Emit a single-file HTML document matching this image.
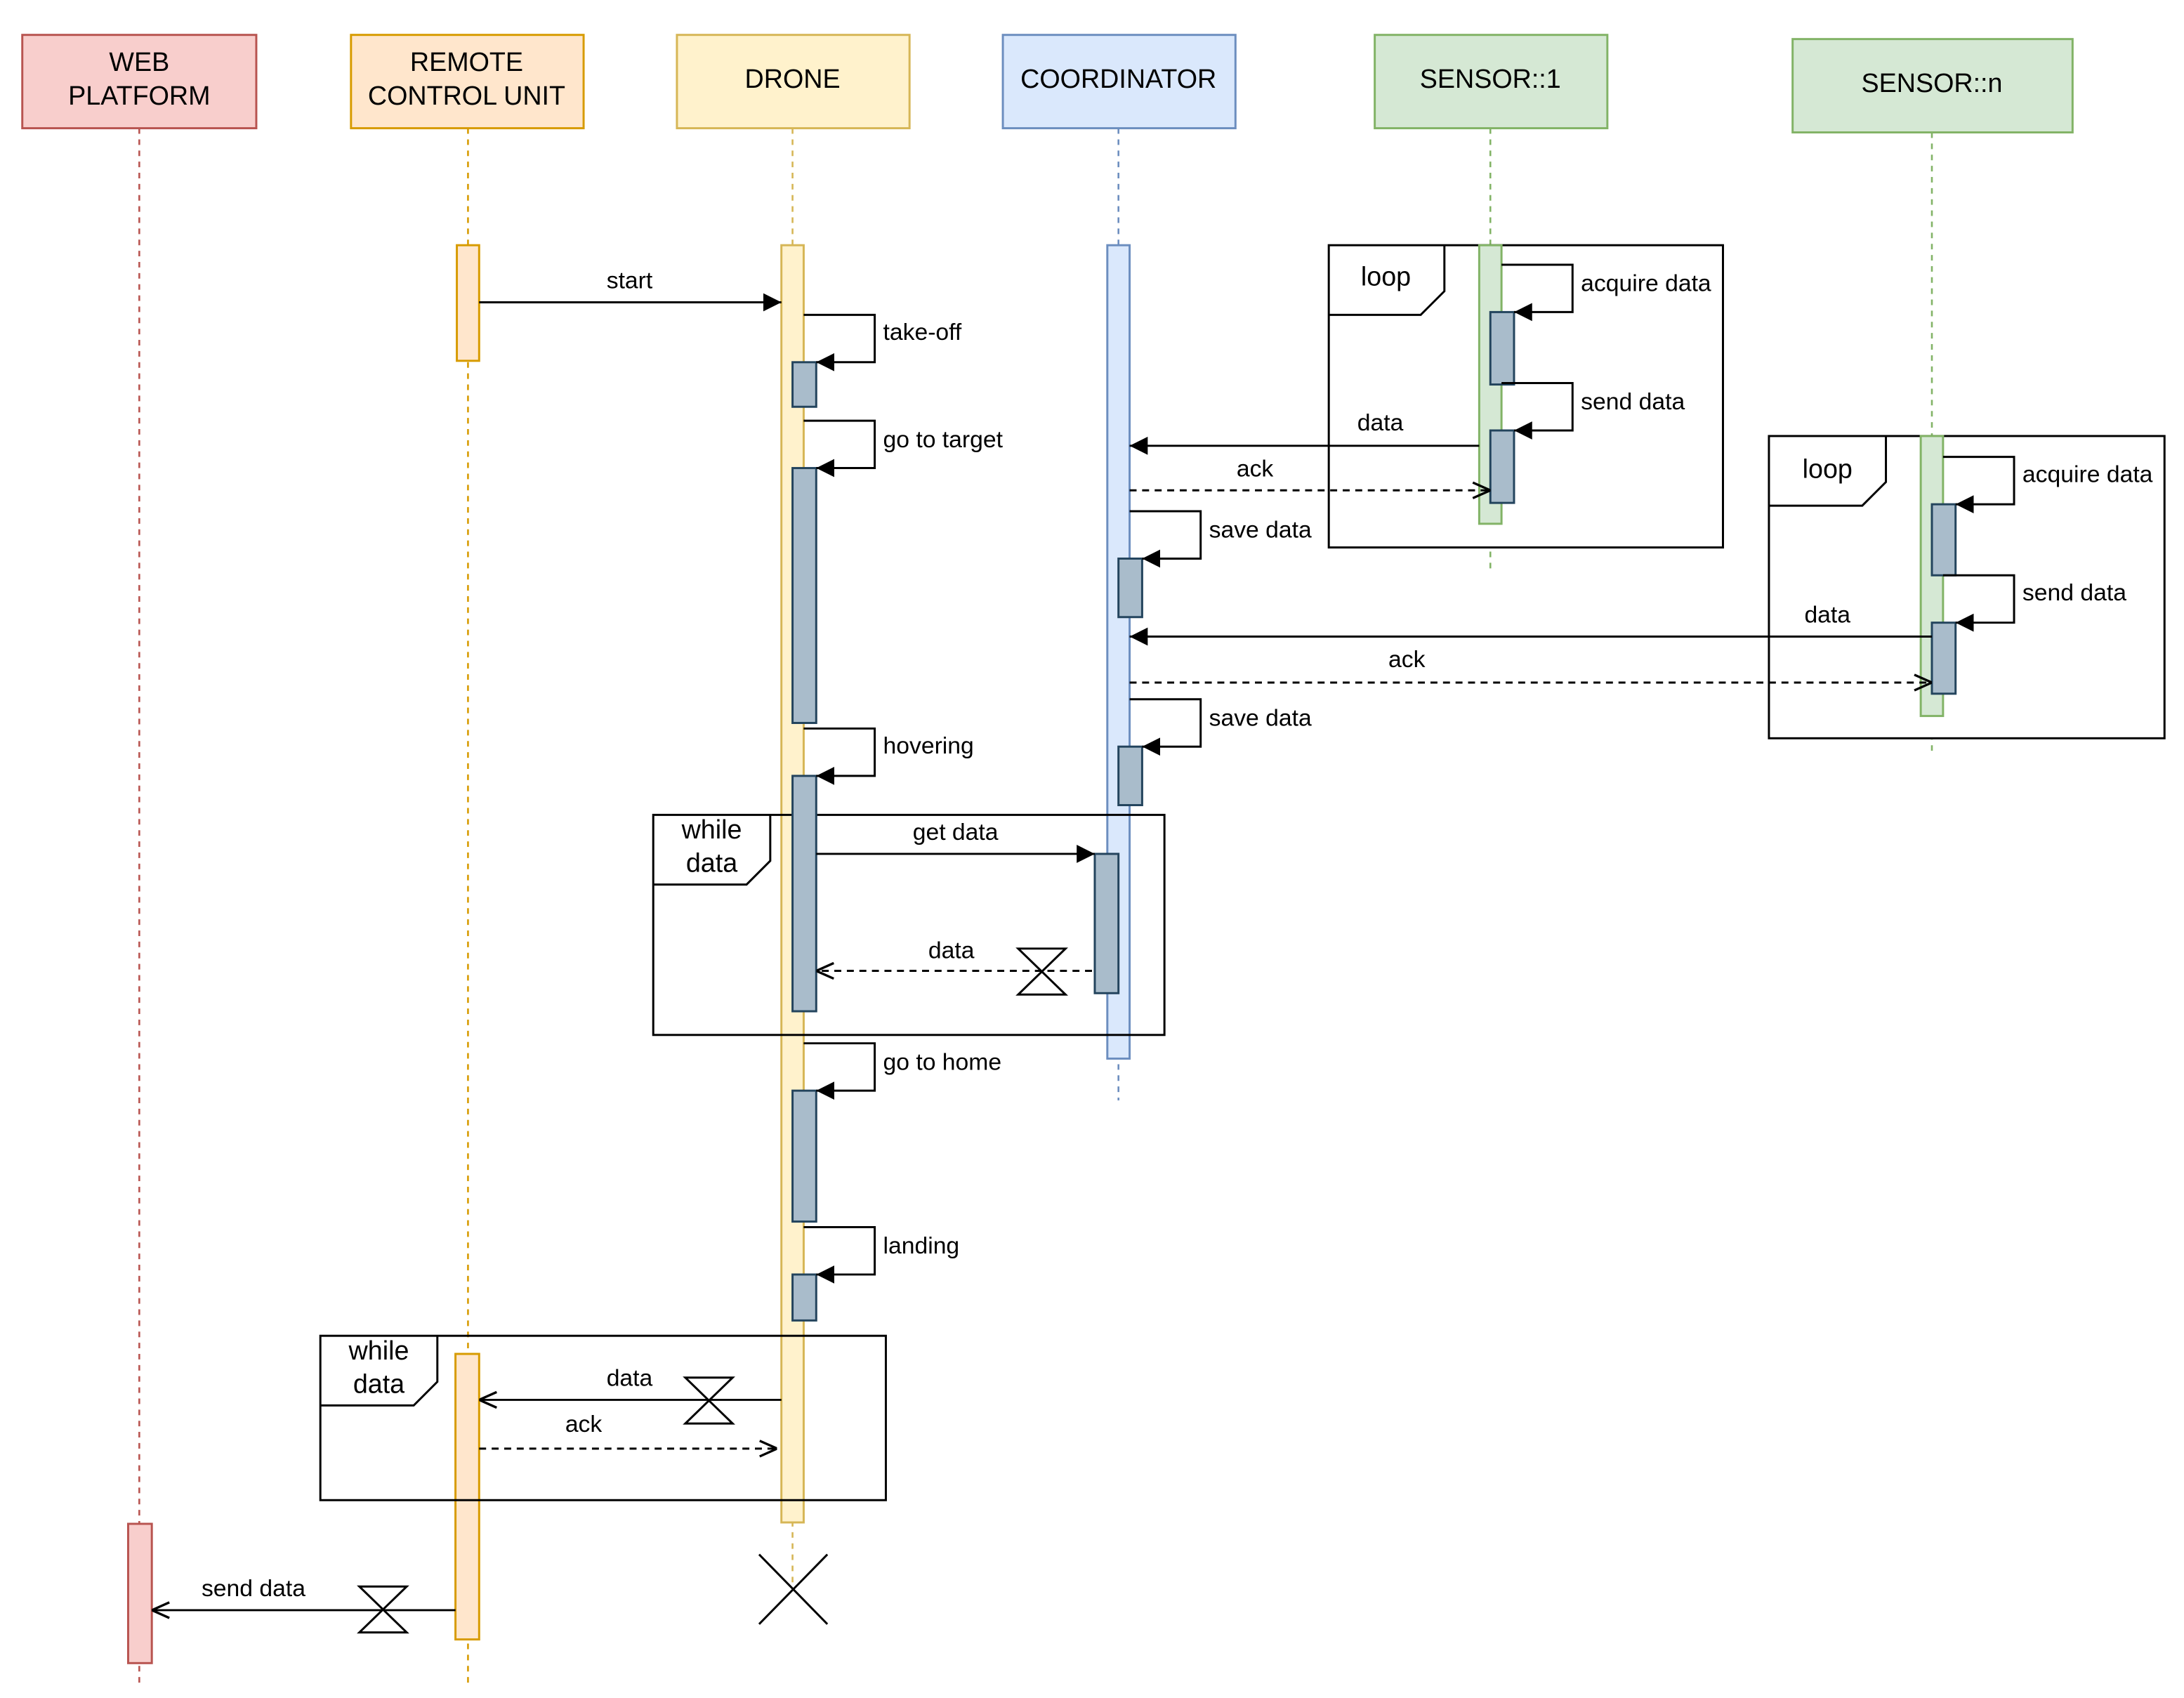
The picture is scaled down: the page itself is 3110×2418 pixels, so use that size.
<!DOCTYPE html>
<html><head><meta charset="utf-8"><style>
html,body{margin:0;padding:0;background:#fff;width:3110px;height:2418px;overflow:hidden}
svg{display:block}
text{font-family:"Liberation Sans",sans-serif;fill:#000}
</style></head><body>
<svg width="3110" height="2418" viewBox="0 0 1568 1219" xmlns="http://www.w3.org/2000/svg">
<defs>
<marker id="f" viewBox="0 0 10 10" refX="10" refY="5" markerWidth="13" markerHeight="13" orient="auto" markerUnits="userSpaceOnUse"><path d="M0,0L10,5L0,10z" fill="#000"/></marker>
<marker id="o" viewBox="0 0 10 10" refX="10" refY="5" markerWidth="14" markerHeight="14" orient="auto" markerUnits="userSpaceOnUse"><path d="M1,1L10,5L1,9" fill="none" stroke="#000" stroke-width="1.2"/></marker>
</defs>
<g stroke-width="1.5">
<rect x="16" y="25" width="168" height="67" fill="#f8cecc" stroke="#b85450"/>
<rect x="252" y="25" width="167" height="67" fill="#ffe6cc" stroke="#d79b00"/>
<rect x="486" y="25" width="167" height="67" fill="#fff2cc" stroke="#d6b656"/>
<rect x="720" y="25" width="167" height="67" fill="#dae8fc" stroke="#6c8ebf"/>
<rect x="987" y="25" width="167" height="67" fill="#d5e8d4" stroke="#82b366"/>
<rect x="1287" y="28" width="201" height="67" fill="#d5e8d4" stroke="#82b366"/>
</g>
<g font-size="19" text-anchor="middle">
<text x="100" y="51">WEB</text><text x="100" y="75">PLATFORM</text>
<text x="335" y="51">REMOTE</text><text x="335" y="75">CONTROL UNIT</text>
<text x="569" y="63">DRONE</text>
<text x="803" y="63">COORDINATOR</text>
<text x="1070" y="63">SENSOR::1</text>
<text x="1387" y="66">SENSOR::n</text>
</g>
<g stroke-width="1.3" stroke-dasharray="4,4" fill="none">
<line x1="100" y1="92" x2="100" y2="1210" stroke="#b85450"/>
<line x1="336" y1="92" x2="336" y2="1210" stroke="#d79b00"/>
<line x1="569" y1="92" x2="569" y2="1140" stroke="#d6b656"/>
<line x1="803" y1="92" x2="803" y2="790" stroke="#6c8ebf"/>
<line x1="1070" y1="92" x2="1070" y2="410" stroke="#82b366"/>
<line x1="1387" y1="95" x2="1387" y2="542" stroke="#82b366"/>
</g>
<g fill="none" stroke="#000" stroke-width="1.5">
<rect x="954" y="176" width="283" height="217" fill="#fff"/>
<path d="M954,226H1020L1037,209V176"/>
<rect x="1270" y="313" width="284" height="217" fill="#fff"/>
<path d="M1270,363H1337L1354,346V313"/>
</g>
<g stroke-width="1.5">
<rect x="328" y="176" width="16" height="83" fill="#ffe6cc" stroke="#d79b00"/>
<rect x="561" y="176" width="16" height="917" fill="#fff2cc" stroke="#d6b656"/>
<rect x="795" y="176" width="16" height="584" fill="#dae8fc" stroke="#6c8ebf"/>
<rect x="1062" y="176" width="16" height="200" fill="#d5e8d4" stroke="#82b366"/>
<rect x="1379" y="313" width="16" height="201" fill="#d5e8d4" stroke="#82b366"/>
<rect x="327" y="972" width="17" height="205" fill="#ffe6cc" stroke="#d79b00"/>
<rect x="92" y="1094" width="17" height="100" fill="#f8cecc" stroke="#b85450"/>
</g>
<g fill="none" stroke="#000" stroke-width="1.5">
<rect x="469" y="585" width="367" height="158"/>
<path d="M469,635H536L553,618V585"/>
<rect x="230" y="959" width="406" height="118"/>
<path d="M230,1009H297L314,992V959"/>
</g>
<g fill="#a9bccb" stroke="#23445d" stroke-width="1.5">
<rect x="569" y="260" width="17" height="32"/>
<rect x="569" y="336" width="17" height="183"/>
<rect x="569" y="557" width="17" height="169"/>
<rect x="569" y="783" width="17" height="94"/>
<rect x="569" y="915" width="17" height="33"/>
<rect x="803" y="401" width="17" height="42"/>
<rect x="803" y="536" width="17" height="42"/>
<rect x="786" y="613" width="17" height="100"/>
<rect x="1070" y="224" width="17" height="52"/>
<rect x="1070" y="309" width="17" height="52"/>
<rect x="1387" y="362" width="17" height="51"/>
<rect x="1387" y="447" width="17" height="51"/>
</g>
<g fill="none" stroke="#000" stroke-width="1.5" marker-end="url(#f)">
<path d="M577,226H628V260H586"/>
<path d="M577,302H628V336H586"/>
<path d="M577,523H628V557H586"/>
<path d="M577,749H628V783H586"/>
<path d="M577,881H628V915H586"/>
<path d="M811,367H862V401H820"/>
<path d="M811,502H862V536H820"/>
<path d="M1078,190H1129V224H1087"/>
<path d="M1078,275H1129V309H1087"/>
<path d="M1395,328H1446V362H1404"/>
<path d="M1395,413H1446V447H1404"/>
</g>
<g fill="none" stroke="#000" stroke-width="1.5">
<line x1="344" y1="217" x2="561" y2="217" marker-end="url(#f)"/>
<line x1="1062" y1="320" x2="811" y2="320" marker-end="url(#f)"/>
<line x1="811" y1="352" x2="1070" y2="352" stroke-dasharray="5,4" marker-end="url(#o)"/>
<line x1="1387" y1="457" x2="811" y2="457" marker-end="url(#f)"/>
<line x1="811" y1="490" x2="1387" y2="490" stroke-dasharray="5,4" marker-end="url(#o)"/>
<line x1="586" y1="613" x2="786" y2="613" marker-end="url(#f)"/>
<line x1="784" y1="697" x2="586" y2="697" stroke-dasharray="5,4" marker-end="url(#o)"/>
<line x1="561" y1="1005" x2="344" y2="1005" marker-end="url(#o)"/>
<line x1="344" y1="1040" x2="558" y2="1040" stroke-dasharray="5,4" marker-end="url(#o)"/>
<line x1="327" y1="1156" x2="109" y2="1156" marker-end="url(#o)"/>
<path d="M731,681H765L731,714H765Z" fill="#fff"/>
<path d="M492,989H526L492,1022H526Z" fill="#fff"/>
<path d="M258,1139H292L258,1172H292Z" fill="#fff"/>
<path d="M545,1116L594,1166M594,1116L545,1166"/>
</g>
<g font-size="17">
<text x="452" y="207" text-anchor="middle">start</text>
<text x="634" y="244">take-off</text>
<text x="634" y="321">go to target</text>
<text x="634" y="541">hovering</text>
<text x="634" y="768">go to home</text>
<text x="634" y="900">landing</text>
<text x="868" y="386">save data</text>
<text x="868" y="521">save data</text>
<text x="1135" y="209">acquire data</text>
<text x="1135" y="294">send data</text>
<text x="1452" y="346">acquire data</text>
<text x="1452" y="431">send data</text>
<text x="991" y="309" text-anchor="middle">data</text>
<text x="901" y="342" text-anchor="middle">ack</text>
<text x="1312" y="447" text-anchor="middle">data</text>
<text x="1010" y="479" text-anchor="middle">ack</text>
<text x="686" y="603" text-anchor="middle">get data</text>
<text x="683" y="688" text-anchor="middle">data</text>
<text x="452" y="995" text-anchor="middle">data</text>
<text x="419" y="1028" text-anchor="middle">ack</text>
<text x="182" y="1146" text-anchor="middle">send data</text>
</g>
<g font-size="19" text-anchor="middle">
<text x="995" y="205">loop</text>
<text x="1312" y="343">loop</text>
<text x="511" y="602">while</text><text x="511" y="626">data</text>
<text x="272" y="976">while</text><text x="272" y="1000">data</text>
</g>
</svg>
</body></html>
